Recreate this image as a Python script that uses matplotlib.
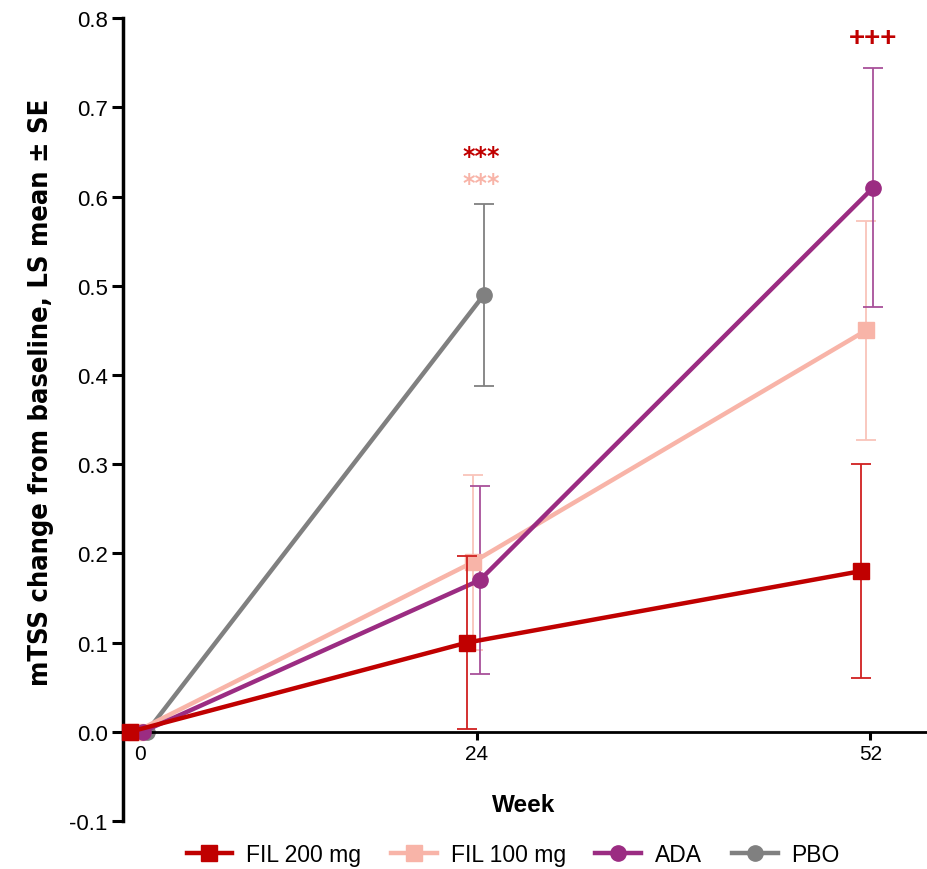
import matplotlib
matplotlib.use("Agg")
import matplotlib.pyplot as plt
import numpy as np

weeks_all = [0, 24, 52]
weeks_pbo = [0, 24]

fil200 = [0.0, 0.10, 0.18]
fil200_se = [0.0, 0.097, 0.12]
fil100 = [0.0, 0.19, 0.45]
fil100_se = [0.0, 0.098, 0.123]
ada = [0.0, 0.17, 0.61]
ada_se = [0.0, 0.105, 0.134]
pbo = [0.0, 0.49]
pbo_se = [0.0, 0.102]

labels = ["FIL 200 mg", "FIL 100 mg", "ADA", "PBO"]
xticks = [0, 24, 52]
yticks = [-0.1, 0.0, 0.1, 0.2, 0.3, 0.4, 0.5, 0.6, 0.7, 0.8]

plt.rcParams['font.family'] = ['Liberation Sans', 'DejaVu Sans']

fig = plt.figure(figsize=(9.28, 8.7), dpi=100)
ax = fig.add_axes([0.1325, 0.0552, 0.8675, 0.9228])

series = [
    (weeks_all, fil200, fil200_se, "#C00000", "#D02020", "s", -0.7, labels[0], 4),
    (weeks_all, fil100, fil100_se, "#F8B4A8", "#F9C4BA", "s", -0.3, labels[1], 3),
    (weeks_all, ada, ada_se, "#9B2C82", "#A8509A", "o", 0.2, labels[2], 3),
    (weeks_pbo, pbo, pbo_se, "#808080", "#808080", "o", 0.5, labels[3], 2),
]

handles = []
for x, y, se, col, ecol, mk, off, lab, z in series:
    xx = np.array(x, dtype=float) + off
    yy = np.array(y)
    ss = np.array(se)
    m = ss > 0
    ax.errorbar(xx[m], yy[m], yerr=ss[m], fmt='none', ecolor=ecol, elinewidth=1.3,
                capsize=7, capthick=1.3, zorder=z)
    h, = ax.plot(xx, yy, color=col, lw=3.2, marker=mk, markersize=11, zorder=z + 0.5,
                 label=lab, clip_on=False)
    handles.append(h)

ax.text(24.3, 0.646, "***", color="#C00000", ha='center', va='center', fontsize=17,
        fontweight='bold', family='DejaVu Sans')
ax.text(24.3, 0.615, "***", color="#F8B4A8", ha='center', va='center', fontsize=17,
        fontweight='bold', family='DejaVu Sans')
ax.text(52.2, 0.778, "+++", color="#C00000", ha='center', va='center', fontsize=20,
        fontweight='bold')

ax.set_xlim(-1.2, 56.1)
ax.set_ylim(-0.1, 0.8)

for s in ['top', 'right']:
    ax.spines[s].set_visible(False)
ax.spines['left'].set_linewidth(2.5)
ax.spines['bottom'].set_position(('data', 0))
ax.spines['bottom'].set_linewidth(2.0)

ax.set_yticks(yticks)
ax.set_yticklabels([f"{v:.1f}" for v in yticks])
ax.set_xticks(xticks)
ax.set_xticklabels([str(v) for v in xticks])
ax.tick_params(axis='y', direction='out', length=8, width=2.2, pad=3, labelsize=16)
ax.tick_params(axis='x', direction='out', length=6, width=2.2, pad=3, labelsize=15)

fig.text(0.044, 1 - 392 / 870, "mTSS change from baseline, LS mean ± SE", fontsize=19.5,
         fontweight='bold', family=['DejaVu Sans', 'Liberation Sans'], stretch='condensed',
         rotation=90, ha='center', va='center')
ax.text(27.3, -0.082, "Week", fontsize=17.5, fontweight='bold', ha='center', va='center')

fig.legend(handles=handles, labels=labels, loc='center', bbox_to_anchor=(0.553, 0.017),
           ncol=4, frameon=False, handlelength=2.0, columnspacing=1.3, handletextpad=0.6,
           prop={'family': ['Liberation Sans'], 'size': 16.5})

fig.savefig("out.png", dpi=100)
